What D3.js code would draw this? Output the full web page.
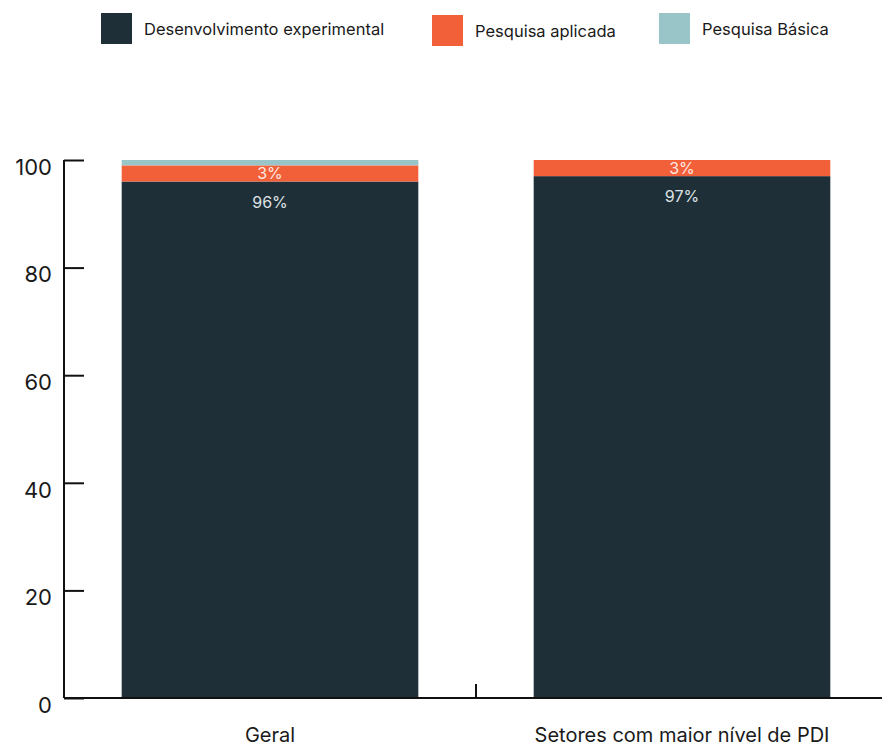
<!DOCTYPE html>
<html><head><meta charset="utf-8">
<script src="https://cdn.jsdelivr.net/npm/d3@7"></script>
<style>body{margin:0;background:#fff;} svg{display:block;font-family:Inter, "Open Sans", sans-serif;}</style>
</head><body>
<svg id="c" width="882" height="747"></svg>
<script>
const categories = ["Geral", "Setores com maior nível de PDI"];
const seriesNames = ["Desenvolvimento experimental", "Pesquisa aplicada", "Pesquisa Básica"];
const desenvolvimento = [96, 97];
const aplicada = [3, 3];
const basica = [1, 0];
const yTicks = [0, 20, 40, 60, 80, 100];
const colors = ["#1e2f38", "#f2603a", "#9ac5c8"];

const svg = d3.select("#c");
const x = d3.scaleBand().domain(categories).range([64, 888]).paddingInner(0.28).paddingOuter(0.14);
const y = d3.scaleLinear().domain([0, 100]).range([698, 160]);

const data = categories.map((c, i) => ({cat: c, d: desenvolvimento[i], a: aplicada[i], b: basica[i]}));
const stack = d3.stack().keys(["d", "a", "b"])(data);

stack.forEach((layer, li) => {
  svg.append("g").selectAll("rect").data(layer).join("rect")
    .attr("x", d => x(d.data.cat))
    .attr("width", x.bandwidth())
    .attr("y", d => y(d[1]))
    .attr("height", d => y(d[0]) - y(d[1]))
    .attr("fill", colors[li]);
});

// value labels
svg.append("g").selectAll("text").data(data).join("text")
  .attr("x", d => x(d.cat) + x.bandwidth() / 2)
  .attr("y", d => y(d.d) + 26)
  .attr("text-anchor", "middle")
  .attr("fill", "#dfe3e5")
  .attr("font-size", 16)
  .text(d => d.d + "%");
svg.append("g").selectAll("text").data(data).join("text")
  .attr("x", d => x(d.cat) + x.bandwidth() / 2)
  .attr("y", d => y(d.d + d.a / 2) + 6)
  .attr("text-anchor", "middle")
  .attr("fill", "#ffe9e2")
  .attr("font-size", 16)
  .text(d => d.a + "%");

// y axis
const ya = svg.append("g").attr("transform", "translate(64,0)")
  .call(d3.axisLeft(y).tickValues(yTicks).tickSize(-20).tickPadding(12));
ya.select(".domain").attr("stroke", "#111").attr("stroke-width", 2).attr("d", "M0,160V698");
ya.selectAll(".tick line").attr("stroke", "#111").attr("stroke-width", 2);
ya.selectAll(".tick text").attr("font-size", 22).attr("fill", "#1a1a1a").attr("dy", "0.65em")
  .attr("font-family", "Inter, sans-serif");

// x axis
const xa = svg.append("g").attr("transform", "translate(0,698)")
  .call(d3.axisBottom(x).tickSize(0).tickPadding(30));
xa.select(".domain").attr("stroke", "#111").attr("stroke-width", 2).attr("d", "M64,0H888");
xa.selectAll(".tick text").attr("font-size", 20).attr("fill", "#1a1a1a").attr("font-family", "Inter, sans-serif");
// boundary ticks between bands
const bounds = [x.range()[0], (x(categories[0]) + x.bandwidth() + x(categories[1])) / 2];
svg.append("g").selectAll("line").data(bounds).join("line")
  .attr("x1", d => d).attr("x2", d => d)
  .attr("y1", 698).attr("y2", 684)
  .attr("stroke", "#111").attr("stroke-width", 2);

// legend
const legX = [101, 432, 659];
const lg = svg.append("g").selectAll("g").data(seriesNames).join("g")
  .attr("transform", (d, i) => `translate(${legX[i]},${i === 1 ? 15 : 13})`);
lg.append("rect").attr("width", 31).attr("height", 31).attr("fill", (d, i) => colors[i]);
lg.append("text").attr("x", 43).attr("y", 16).attr("dy", "0.35em")
  .attr("font-size", 16.5).attr("fill", "#1a1a1a").text(d => d);
</script>
</body></html>
